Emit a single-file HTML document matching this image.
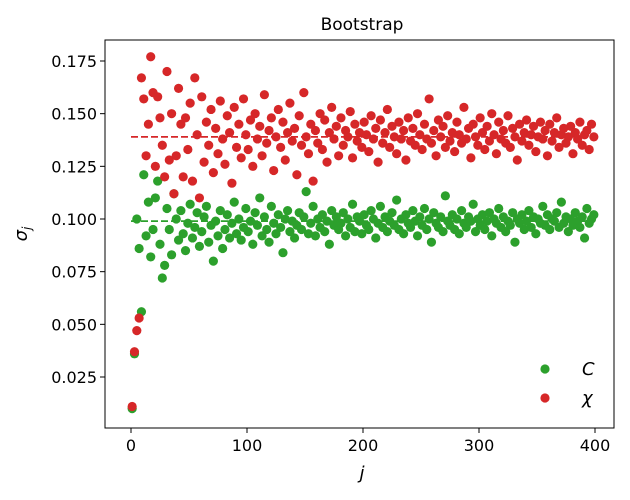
<!DOCTYPE html>
<html><head><meta charset="utf-8"><style>
body{margin:0;background:#fff}
svg{display:block;font-family:"DejaVu Sans","Liberation Sans",sans-serif}
</style></head><body>
<svg id="chart" width="630" height="500" viewBox="0 0 630 500"></svg>
<script>
const greenVals=[0.010,0.036,0.100,0.086,0.056,0.121,0.092,0.108,0.082,0.095,
0.110,0.118,0.088,0.072,0.078,0.105,0.095,0.083,0.112,0.100,
0.090,0.104,0.093,0.085,0.098,0.107,0.091,0.096,0.103,0.087,
0.094,0.101,0.106,0.089,0.097,0.080,0.099,0.092,0.104,0.086,
0.095,0.102,0.091,0.098,0.108,0.093,0.100,0.090,0.096,0.105,
0.094,0.099,0.088,0.103,0.097,0.110,0.092,0.101,0.095,0.089,
0.106,0.098,0.093,0.102,0.096,0.084,0.100,0.104,0.094,0.099,
0.091,0.097,0.103,0.095,0.101,0.113,0.093,0.098,0.106,0.092,
0.100,0.096,0.102,0.094,0.099,0.088,0.104,0.097,0.101,0.095,
0.098,0.103,0.092,0.100,0.096,0.107,0.094,0.101,0.099,0.093,
0.102,0.097,0.095,0.104,0.100,0.091,0.098,0.106,0.096,0.101,
0.094,0.099,0.103,0.097,0.109,0.095,0.100,0.093,0.102,0.098,
0.096,0.104,0.099,0.092,0.101,0.097,0.105,0.095,0.100,0.089,
0.103,0.098,0.096,0.101,0.094,0.111,0.099,0.097,0.102,0.095,
0.100,0.093,0.104,0.098,0.096,0.101,0.099,0.107,0.094,0.100,
0.097,0.102,0.095,0.099,0.103,0.092,0.100,0.098,0.105,0.096,
0.101,0.094,0.099,0.097,0.103,0.089,0.100,0.098,0.102,0.095,
0.099,0.104,0.096,0.101,0.093,0.100,0.098,0.106,0.097,0.102,
0.095,0.100,0.099,0.103,0.096,0.108,0.098,0.101,0.094,0.100,
0.097,0.103,0.099,0.096,0.101,0.091,0.105,0.098,0.100,0.102];
const redVals=[0.011,0.037,0.047,0.053,0.167,0.157,0.130,0.145,0.177,0.160,
0.125,0.158,0.148,0.135,0.120,0.170,0.128,0.150,0.112,0.130,
0.162,0.145,0.120,0.148,0.133,0.155,0.118,0.167,0.140,0.110,
0.158,0.127,0.146,0.135,0.152,0.122,0.143,0.131,0.156,0.138,
0.126,0.149,0.141,0.117,0.153,0.134,0.145,0.129,0.157,0.140,
0.133,0.147,0.125,0.150,0.138,0.144,0.130,0.159,0.136,0.142,
0.148,0.123,0.139,0.152,0.134,0.146,0.128,0.141,0.155,0.137,
0.143,0.121,0.149,0.135,0.160,0.139,0.131,0.145,0.118,0.142,
0.136,0.150,0.133,0.147,0.127,0.141,0.153,0.138,0.144,0.130,
0.148,0.135,0.142,0.139,0.151,0.129,0.145,0.137,0.141,0.134,
0.146,0.140,0.132,0.149,0.138,0.143,0.127,0.147,0.136,0.141,
0.152,0.134,0.144,0.139,0.131,0.146,0.138,0.142,0.128,0.148,
0.137,0.143,0.135,0.150,0.140,0.133,0.145,0.138,0.157,0.136,
0.142,0.130,0.147,0.139,0.144,0.134,0.149,0.137,0.141,0.132,
0.146,0.140,0.136,0.153,0.138,0.143,0.129,0.145,0.139,0.135,
0.148,0.141,0.133,0.144,0.137,0.150,0.140,0.131,0.146,0.138,
0.142,0.136,0.149,0.134,0.143,0.139,0.128,0.145,0.137,0.141,
0.147,0.135,0.140,0.144,0.132,0.139,0.146,0.138,0.142,0.130,
0.145,0.137,0.141,0.148,0.134,0.140,0.143,0.136,0.139,0.144,
0.131,0.141,0.138,0.146,0.135,0.140,0.142,0.133,0.145,0.139];
const greenMean=0.099;
const redMean=0.139;
const xTicks=[0,100,200,300,400];
const yTicks=[0.025,0.050,0.075,0.100,0.125,0.150,0.175];
const yTickLabels=["0.025","0.050","0.075","0.100","0.125","0.150","0.175"];

const NS="http://www.w3.org/2000/svg";
const svg=document.getElementById('chart');
const L=105,R=614,T=40,B=428;
function xs(j){return 131+j*1.16;}
function ys(v){return 219-(v-0.1)*2106.7;}
function mk(tag,attrs,parent){const e=document.createElementNS(NS,tag);for(const k in attrs)e.setAttribute(k,attrs[k]);(parent||svg).appendChild(e);return e;}

const gC=mk('g',{});


greenVals.forEach((v,i)=>{const c=mk('circle',{cx:xs(2*i+1),cy:ys(v),r:4.6,fill:'#2ca02c'},gC);

});
const gR=mk('g',{});


redVals.forEach((v,i)=>{const c=mk('circle',{cx:xs(2*i+1),cy:ys(v),r:4.6,fill:'#d62728'},gR);

});
const ml1=mk('line',{x1:xs(0),x2:xs(400),y1:ys(greenMean),y2:ys(greenMean),stroke:'#2ca02c','stroke-width':1.8,'stroke-dasharray':'7,3'},gC);


svg.insertBefore(ml1,gC);
const ml2=mk('line',{x1:xs(0),x2:xs(400),y1:ys(redMean),y2:ys(redMean),stroke:'#d62728','stroke-width':1.8,'stroke-dasharray':'7,3'});


svg.insertBefore(ml2,gC);

const frame=mk('rect',{x:L,y:T,width:R-L,height:B-T,fill:'none',stroke:'#000','stroke-width':1});


xTicks.forEach(t=>{mk('line',{x1:xs(t),x2:xs(t),y1:B,y2:B+5,stroke:'#000'});
const tx=mk('text',{x:xs(t),y:B+23,'text-anchor':'middle','font-size':16});tx.textContent=t;

});
yTicks.forEach((t,i)=>{mk('line',{x1:L-5,x2:L,y1:ys(t),y2:ys(t),stroke:'#000'});
const tx=mk('text',{x:L-8,y:ys(t)+6,'text-anchor':'end','font-size':16});tx.textContent=yTickLabels[i];

});
const title=mk('text',{x:362,y:30,'text-anchor':'middle','font-size':17});title.textContent='Bootstrap';


const xl=mk('text',{x:362,y:479,'text-anchor':'middle','font-size':18,'font-style':'italic'});xl.textContent='j';


const yl=mk('text',{x:0,y:0,'text-anchor':'middle','font-size':18,'font-style':'italic',transform:'translate(27,234) rotate(-90)'});
yl.innerHTML='σ<tspan font-size="12" dy="4">j</tspan>';


const leg=mk('g',{});


mk('circle',{cx:545,cy:369,r:4.6,fill:'#2ca02c'},leg);
mk('circle',{cx:545,cy:398,r:4.6,fill:'#d62728'},leg);
const l1=mk('text',{x:582,y:375,'font-size':18,'font-style':'italic'},leg);l1.textContent='C';


const l2=mk('text',{x:582,y:404,'font-size':18,'font-style':'italic'},leg);l2.textContent='χ';


</script>
</body></html>
